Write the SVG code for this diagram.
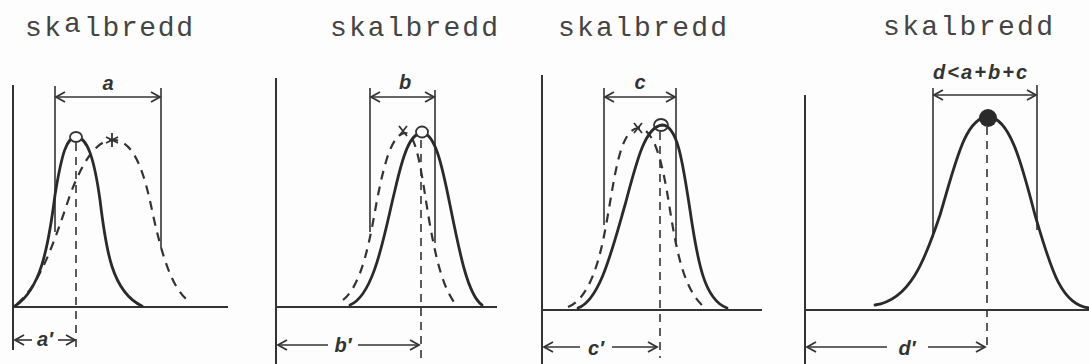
<svg xmlns="http://www.w3.org/2000/svg" width="1089" height="364" viewBox="0 0 1089 364">
<style>
.title{font-family:"Liberation Mono","DejaVu Sans Mono",monospace;font-size:28px;fill:#444}
.hand{font-family:"Liberation Sans","DejaVu Sans",sans-serif;font-style:italic;font-weight:bold;font-size:20px;fill:#333;text-anchor:middle}
.axis{stroke:#333;stroke-width:2;fill:none}
.dim{stroke:#333;stroke-width:1.6;fill:none}
.solid{stroke:#2a2a2a;stroke-width:2.8;fill:none;stroke-linecap:round}
.dash{stroke:#333;stroke-width:2.2;fill:none;stroke-dasharray:9 7}
.vdash{stroke:#333;stroke-width:1.6;fill:none;stroke-dasharray:8 6}
.arr{marker-end:url(#ah)}
.arr2{marker-start:url(#ah);marker-end:url(#ah)}
.arrs{marker-start:url(#ah)}
</style>
<defs>
<marker id="ah" markerUnits="userSpaceOnUse" markerWidth="14" markerHeight="14" refX="10" refY="6" orient="auto-start-reverse" viewBox="0 0 14 12">
<path d="M1,1 L10,6 L1,11" fill="none" stroke="#333" stroke-width="1.8"/>
</marker>
</defs>
<rect width="1089" height="364" fill="#fdfdfd"/>

<g id="panel-a">
<text class="title" y="36"><tspan x="25" textLength="36" lengthAdjust="spacing">sk</tspan><tspan x="64" dy="-4">a</tspan><tspan x="84" dy="4" textLength="109" lengthAdjust="spacing">lbredd</tspan></text>
<line class="axis" x1="13" y1="85" x2="13" y2="350"/>
<line class="axis" x1="13" y1="307" x2="228" y2="307"/>
<line class="dim" x1="55" y1="86" x2="55" y2="232"/>
<line class="dim" x1="161" y1="88" x2="161" y2="248"/>
<text class="hand" x="108" y="90">a</text>
<path class="dash" d="M17,304 C40,285 55,240 70,195 C85,155 100,138 115,140 C135,142 145,175 153,215 C162,255 172,290 190,302"/>
<path class="solid" d="M15,306 C40,290 48,250 55,195 C62,152 67,137 76,137 C87,137 94,157 100,200 C106,250 112,292 142,306"/>
<ellipse cx="76" cy="137" rx="6" ry="5" fill="#fdfdfd" stroke="#333" stroke-width="1.8"/>
<path d="M112,133 L112,147 M106,137 L118,143 M106,143 L118,137" stroke="#333" stroke-width="1.8" fill="none"/>
<line class="vdash" x1="76" y1="143" x2="76" y2="347"/>
<text class="hand" x="45" y="346">a′</text>
</g>

<g id="panel-b">
<text class="title" x="330" y="36" textLength="168" lengthAdjust="spacing">skalbredd</text>
<line class="axis" x1="276" y1="78" x2="276" y2="364"/>
<line class="axis" x1="276" y1="307" x2="497" y2="307"/>
<line class="dim" x1="370" y1="88" x2="370" y2="232"/>
<line class="dim" x1="435" y1="90" x2="435" y2="243"/>
<text class="hand" x="405" y="89">b</text>
<path class="dash" d="M343,300 C362,285 370,240 377,200 C385,160 392,135 405,133 C418,133 422,180 430,225 C438,270 445,290 456,305"/>
<path class="solid" d="M350,305 C375,295 385,230 395,190 C403,155 410,133 422,133 C435,133 442,165 450,205 C460,255 468,295 482,305"/>
<ellipse cx="422" cy="132" rx="6" ry="5.5" fill="#fdfdfd" stroke="#333" stroke-width="1.8"/>
<path d="M399,126 L407,136 M407,126 L399,136" stroke="#333" stroke-width="1.8" fill="none"/>
<line class="vdash" x1="421" y1="140" x2="421" y2="362"/>
<text class="hand" x="343" y="352">b′</text>
</g>

<g id="panel-c">
<text class="title" x="558" y="36" textLength="169" lengthAdjust="spacing">skalbredd</text>
<line class="axis" x1="542" y1="75" x2="542" y2="364"/>
<line class="axis" x1="542" y1="310" x2="762" y2="310"/>
<line class="dim" x1="604" y1="88" x2="604" y2="225"/>
<line class="dim" x1="676" y1="88" x2="676" y2="245"/>
<text class="hand" x="640" y="89">c</text>
<path class="dash" d="M568,307 C590,298 600,260 607,220 C615,175 620,130 638,128 C655,128 663,165 670,210 C677,255 685,290 703,306"/>
<path class="solid" d="M578,308 C600,300 612,250 625,205 C637,160 645,127 662,125 C678,125 683,165 690,210 C698,265 705,300 727,308"/>
<ellipse cx="661" cy="125" rx="7" ry="6" fill="none" stroke="#333" stroke-width="1.8"/>
<path d="M634,123 L642,133 M642,123 L634,133" stroke="#333" stroke-width="1.8" fill="none"/>
<line class="vdash" x1="660" y1="132" x2="660" y2="358"/>
<text class="hand" x="596" y="355">c′</text>
</g>

<g id="panel-d">
<text class="title" x="883" y="35" textLength="170" lengthAdjust="spacing">skalbredd</text>
<text class="hand" x="980" y="79" font-size="19" textLength="94" lengthAdjust="spacing">d&lt;a+b+c</text>
<line class="axis" x1="805" y1="95" x2="805" y2="364"/>
<line class="axis" x1="805" y1="310" x2="1089" y2="310"/>
<line class="dim" x1="933" y1="88" x2="933" y2="237"/>
<line class="dim" x1="1037" y1="85" x2="1037" y2="230"/>
<path class="solid" d="M875,305 C910,300 925,260 940,215 C955,165 965,117 988,117 C1010,117 1022,165 1035,215 C1050,265 1060,305 1089,308"/>
<circle cx="988" cy="118" r="9" fill="#2a2a2a"/>
<line class="vdash" x1="987" y1="127" x2="987" y2="347"/>
<text class="hand" x="907" y="355">d′</text>
</g>

<g id="connectors">
<line class="dim arr2" x1="56" y1="97" x2="160" y2="97"/>
<line class="dim arr2" x1="371" y1="97" x2="434" y2="97"/>
<line class="dim arr2" x1="605" y1="97" x2="675" y2="97"/>
<line class="dim arr2" x1="934" y1="95" x2="1036" y2="95"/>
<line class="dim arrs" x1="15" y1="340" x2="32" y2="340"/>
<line class="dim arr" x1="58" y1="340" x2="75" y2="340"/>
<line class="dim arrs" x1="278" y1="345" x2="328" y2="345"/>
<line class="dim arr" x1="358" y1="345" x2="419" y2="345"/>
<line class="dim arrs" x1="544" y1="347" x2="580" y2="347"/>
<line class="dim arr" x1="612" y1="347" x2="657" y2="347"/>
<line class="dim arrs" x1="807" y1="347" x2="887" y2="347"/>
<line class="dim arr" x1="928" y1="347" x2="985" y2="347"/>
</g>
</svg>
